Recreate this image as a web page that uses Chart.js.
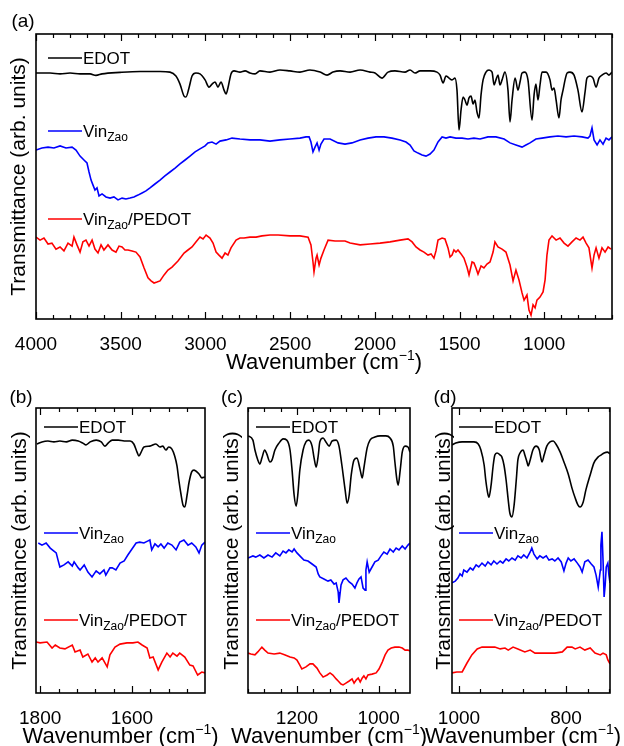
<!DOCTYPE html>
<html>
<head>
<meta charset="utf-8">
<script src="https://cdn.jsdelivr.net/npm/chart.js@4.4.1/dist/chart.umd.min.js"></script>
<style>
  body { margin: 0; background: #fff; }
  #wrap { position: relative; width: 624px; height: 746px; overflow: hidden; background: #fff; }
  canvas { position: absolute; }
</style>
</head>
<body>
<div id="wrap">
  <canvas id="pa" width="624" height="380" style="left:0;top:0;width:624px;height:380px"></canvas>
  <canvas id="pb" width="224" height="376" style="left:0;top:370px;width:224px;height:376px"></canvas>
  <canvas id="pc" width="220" height="376" style="left:212px;top:370px;width:220px;height:376px"></canvas>
  <canvas id="pd" width="208" height="376" style="left:416px;top:370px;width:208px;height:376px"></canvas>
</div>
<script>
// panel (a): full range
var aEdotWn = [4000,3917,3858,3799,3740,3681,3646,3610,3504,3386,3268,3209,3174,3150,3126,3115,3097,3079,3056,3032,3002,2979,2961,2943,2926,2908,2890,2878,2867,2849,2831,2796,2766,2737,2707,2678,2619,2560,2501,2442,2383,2323,2282,2247,2205,2146,2087,2028,1999,1958,1922,1881,1822,1792,1763,1733,1674,1633,1615,1597,1580,1562,1544,1527,1515,1503,1491,1479,1468,1456,1444,1432,1420,1409,1397,1385,1373,1361,1344,1326,1308,1296,1285,1273,1261,1249,1232,1214,1202,1190,1172,1155,1143,1131,1114,1096,1072,1060,1049,1037,1025,1013,989,966,954,942,930,913,901,889,877,865,848,824,801,777,759,748,730,712,694,677,659,635,618,600];
var aEdotT = [82.0,82.0,81.7,82.0,81.7,81.7,81.2,81.7,82.2,82.5,82.5,82.3,81.0,78.3,74.3,74.0,77.0,81.0,82.0,81.7,79.7,77.3,78.3,79.0,77.3,79.0,76.3,75.0,77.0,81.7,82.7,82.3,82.7,82.0,81.7,82.7,82.3,83.0,82.7,82.3,83.0,82.3,81.3,82.3,82.7,82.3,83.0,82.3,82.0,80.3,82.3,82.7,82.3,83.0,82.0,82.7,82.7,82.3,81.3,78.7,81.0,80.3,79.7,80.3,76.3,63.0,69.7,74.0,73.0,71.3,73.7,74.3,71.7,73.0,69.0,67.0,74.7,79.7,82.3,83.0,82.3,78.0,79.7,81.3,78.0,79.7,82.3,76.3,65.7,73.0,80.3,76.3,79.0,82.0,82.3,79.7,66.3,74.7,78.3,73.0,78.0,82.3,82.3,79.7,76.3,77.0,73.0,67.0,73.0,76.3,79.7,82.0,82.3,81.3,76.3,69.0,75.7,80.3,81.0,80.3,77.3,80.3,81.3,82.0,81.3,82.3];
var aVinWn = [4000,3965,3929,3894,3858,3823,3787,3764,3740,3717,3699,3687,3675,3664,3652,3640,3628,3610,3587,3563,3540,3516,3492,3469,3445,3422,3398,3374,3351,3327,3298,3268,3239,3209,3179,3150,3120,3091,3061,3032,3002,2985,2961,2937,2914,2878,2843,2796,2737,2678,2619,2560,2501,2442,2406,2388,2377,2365,2353,2341,2329,2318,2300,2264,2217,2176,2135,2087,2040,1993,1946,1899,1851,1816,1792,1769,1745,1721,1698,1674,1651,1627,1603,1580,1556,1521,1485,1450,1415,1379,1332,1285,1237,1202,1167,1131,1108,1084,1049,1013,966,919,871,824,777,742,730,718,706,688,671,653,635,618,600];
var aVinT = [56.3,57.0,57.3,57.0,57.7,57.0,57.3,56.3,54.3,53.0,52.0,49.0,46.3,44.7,43.0,43.7,41.0,41.7,40.7,40.3,40.7,39.7,40.3,40.0,40.3,40.7,41.3,42.0,42.7,43.7,45.0,46.3,47.7,49.0,50.3,51.7,53.0,54.3,55.7,56.7,57.7,58.7,59.0,58.3,59.3,59.7,60.3,60.0,59.7,59.7,59.3,59.7,60.0,60.3,60.7,60.7,59.0,55.7,57.3,58.7,56.3,58.3,60.0,60.0,58.7,58.3,58.7,59.7,60.3,60.7,60.7,60.3,59.7,59.0,58.0,56.0,55.3,54.7,54.3,55.0,56.3,59.0,60.7,60.3,60.7,60.3,60.3,60.0,60.3,60.0,60.7,60.7,60.0,58.7,58.0,57.3,58.0,58.7,60.0,60.3,60.7,61.0,60.7,61.0,60.7,60.3,61.0,63.7,59.7,58.0,59.7,58.3,60.3,59.7,60.7];
var aPedotWn = [4000,3976,3953,3929,3906,3882,3858,3835,3811,3787,3776,3758,3740,3723,3705,3687,3669,3652,3634,3616,3599,3575,3551,3528,3510,3492,3475,3457,3433,3410,3386,3362,3339,3321,3303,3286,3268,3244,3221,3197,3162,3126,3103,3079,3056,3032,3014,2996,2973,2955,2937,2920,2902,2884,2867,2849,2819,2796,2772,2737,2701,2666,2619,2571,2501,2442,2394,2377,2365,2359,2347,2341,2329,2318,2300,2276,2235,2176,2146,2087,2028,1969,1910,1851,1804,1780,1757,1733,1710,1686,1668,1651,1639,1627,1603,1586,1568,1556,1544,1533,1521,1509,1491,1474,1456,1444,1426,1415,1403,1391,1373,1356,1338,1320,1302,1291,1273,1249,1226,1202,1184,1167,1149,1131,1119,1102,1090,1078,1066,1054,1043,1025,1007,995,984,972,954,930,907,883,860,836,812,789,771,753,736,718,706,694,677,659,641,623,606];
var aPedotT = [27.3,26.3,27.0,25.0,25.3,23.3,24.0,22.7,25.3,24.3,27.3,24.7,22.3,25.7,26.3,24.3,26.3,23.3,22.0,24.7,23.0,24.7,23.0,22.3,24.3,24.0,23.0,23.0,22.7,22.3,20.7,17.0,13.7,12.7,12.0,12.3,12.7,14.7,16.3,17.3,19.3,22.0,23.0,24.0,25.7,27.3,26.7,28.0,27.0,25.3,22.3,21.3,20.3,22.0,21.3,23.7,26.3,27.0,27.0,27.3,27.3,27.7,28.0,28.0,27.7,27.7,27.3,24.7,19.0,15.7,20.3,21.3,18.0,20.3,23.0,26.3,26.0,26.0,25.3,24.7,25.0,25.3,25.7,26.3,26.7,25.7,24.0,23.0,22.3,21.3,21.7,20.3,22.7,26.3,27.0,26.7,23.7,20.7,21.3,23.0,22.3,23.0,21.7,20.3,17.3,14.7,19.0,18.7,17.0,15.0,17.7,17.0,18.3,19.0,22.3,25.7,24.0,23.3,22.3,18.0,12.7,16.3,13.0,8.7,6.3,8.0,3.0,1.3,4.7,3.7,6.3,7.3,9.0,13.0,21.3,26.3,27.7,26.3,27.0,25.3,24.3,25.7,27.0,26.3,27.3,25.3,23.7,17.0,21.3,23.7,20.3,23.7,22.3,24.0,23.3];
var aTicks = [4000, 3500, 3000, 2500, 2000, 1500, 1000];

// panel (b): 1800-1440
var bEdotWn = [1807,1796,1783,1770,1757,1743,1730,1717,1707,1700,1691,1678,1667,1659,1652,1643,1630,1617,1604,1596,1589,1585,1580,1574,1561,1548,1539,1533,1526,1520,1513,1507,1502,1498,1493,1489,1485,1480,1476,1470,1465,1461,1454,1448,1441];
var bEdotT = [83.0,83.7,84.0,83.7,84.0,83.7,84.3,84.0,83.3,82.7,83.7,84.3,83.7,82.3,83.3,84.3,84.3,84.0,84.0,83.0,80.3,79.0,80.3,82.0,82.3,83.0,82.0,82.3,81.0,82.0,81.3,79.0,75.7,71.0,66.0,62.7,62.0,66.0,70.0,73.7,74.3,74.0,73.0,71.7,72.0];
var bVinWn = [1804,1796,1787,1778,1770,1765,1761,1757,1748,1739,1730,1726,1717,1713,1704,1696,1687,1678,1670,1661,1657,1648,1643,1635,1626,1617,1609,1600,1591,1583,1574,1565,1561,1557,1550,1543,1537,1530,1522,1513,1504,1496,1487,1478,1470,1461,1454,1448,1441];
var bVinT = [50.0,49.3,50.0,48.3,47.3,46.7,44.3,42.0,42.7,43.7,42.3,43.7,41.7,41.0,42.7,40.3,38.7,40.7,39.7,41.0,39.3,41.7,41.7,41.0,43.3,44.0,46.0,48.0,50.0,50.3,50.0,50.7,51.0,47.7,49.7,48.7,49.7,48.3,50.0,49.3,47.7,50.3,51.0,49.3,50.0,48.7,46.7,49.3,50.3];
var bPedotWn = [1809,1800,1785,1774,1767,1757,1746,1730,1724,1713,1707,1696,1687,1680,1674,1665,1654,1648,1637,1626,1611,1598,1587,1578,1567,1561,1554,1543,1535,1524,1517,1511,1502,1496,1485,1474,1467,1457,1448,1441];
var bPedotT = [17.0,16.7,17.0,15.0,16.0,15.0,14.7,16.0,13.7,14.3,12.0,13.0,10.3,11.7,10.3,11.7,8.7,12.7,15.3,16.3,16.7,16.7,17.0,16.0,15.0,11.7,12.0,7.7,10.3,13.3,12.0,13.3,12.3,13.3,12.0,9.3,9.0,6.0,7.0,6.7];
var bTicks = [1800, 1600];

// panel (c): 1320-920
var cEdotWn = [1320,1308,1303,1296,1291,1286,1279,1274,1266,1261,1254,1244,1234,1225,1217,1212,1207,1202,1198,1193,1185,1178,1171,1163,1158,1153,1148,1144,1136,1129,1121,1114,1104,1097,1090,1082,1077,1072,1067,1060,1053,1045,1040,1036,1028,1021,1009,996,982,972,964,960,955,952,947,942,935,928,923];
var cEdotT = [85.7,84.3,81.0,77.7,76.3,78.3,81.0,79.7,77.0,77.7,81.0,83.3,84.7,84.3,81.0,74.3,66.0,62.3,66.0,74.3,81.0,83.7,84.3,82.3,78.3,75.3,79.0,83.7,85.0,83.7,82.3,84.0,84.3,82.3,76.0,67.7,63.3,66.0,72.7,77.7,78.3,74.3,71.7,75.0,81.7,84.3,85.3,85.7,85.7,85.0,82.3,77.0,71.0,69.3,74.3,80.3,82.3,82.0,80.3];
var cVinWn = [1320,1308,1301,1291,1281,1271,1261,1252,1242,1234,1227,1220,1212,1207,1200,1193,1183,1173,1163,1153,1148,1144,1134,1124,1117,1109,1104,1099,1097,1092,1087,1080,1072,1065,1058,1053,1048,1043,1038,1033,1031,1028,1023,1016,1009,1001,994,987,979,972,964,957,950,942,935,928,923];
var cVinT = [45.0,45.7,45.3,46.0,45.0,46.0,45.3,46.7,45.7,47.3,46.7,47.7,47.0,48.0,46.7,45.7,44.3,44.0,43.0,42.0,39.7,38.7,38.0,37.3,37.7,36.3,36.7,33.7,30.0,36.0,37.7,38.3,37.0,36.3,35.0,36.7,38.0,38.7,35.0,34.3,41.0,43.7,40.3,42.0,43.7,44.3,45.7,47.0,46.3,48.0,47.0,48.3,47.7,49.0,48.0,49.3,50.0];
var cPedotWn = [1320,1313,1303,1296,1286,1279,1271,1256,1242,1229,1217,1207,1200,1193,1188,1178,1168,1161,1151,1144,1136,1126,1119,1112,1104,1099,1092,1087,1080,1072,1065,1060,1055,1050,1045,1040,1036,1031,1026,1016,1006,999,991,984,977,969,960,950,942,935,928,923];
var cPedotT = [13.3,13.0,12.7,13.7,15.3,14.3,13.3,13.0,13.3,12.7,12.0,11.7,11.0,9.3,8.0,8.7,9.7,9.7,8.3,6.7,5.3,6.0,6.7,6.0,4.7,4.0,3.0,2.7,3.3,4.0,4.7,3.3,4.3,5.0,3.7,5.0,5.7,4.7,6.0,6.3,6.7,8.0,10.3,12.7,14.3,15.0,15.3,15.3,15.0,14.3,14.3,14.0];
var cTicks = [1200, 1000];

// panel (d): 1010-720
var dEdotWn = [1013,1006,994,983,972,964,959,953,950,946,944,940,936,933,929,923,920,916,912,908,905,901,897,893,890,886,880,877,873,871,867,862,856,850,847,845,841,836,830,824,819,811,804,796,789,783,778,774,768,763,755,748,740,735,729,723,718];
var dEdotT = [82.7,83.3,83.7,83.7,83.7,83.0,81.0,76.0,71.0,66.3,65.3,69.3,76.0,79.3,80.0,79.3,78.7,76.0,71.0,64.3,60.0,58.7,62.7,71.0,77.7,80.0,81.0,79.3,77.0,75.7,77.7,81.0,82.3,81.0,78.3,77.0,79.3,82.3,83.7,84.0,83.0,80.3,77.0,73.0,68.3,65.0,62.7,62.0,63.7,67.7,72.7,76.7,78.7,79.3,80.0,80.3,79.7];
var dVinWn = [1013,1007,1002,998,994,991,985,979,974,968,963,957,951,946,940,935,929,923,918,912,907,901,895,890,884,879,873,867,864,860,854,849,843,837,832,826,821,815,809,804,800,796,791,785,779,774,770,765,759,753,748,744,740,736,735,733,731,729,727,725,722,720,718];
var dVinT = [36.7,37.3,38.3,39.7,39.0,41.0,40.3,41.7,41.0,42.7,42.0,43.3,42.3,43.7,42.7,44.0,43.0,44.0,43.3,44.7,44.0,45.0,44.3,45.7,45.0,46.0,45.0,47.0,48.3,46.3,44.7,45.7,45.0,45.7,44.3,44.7,44.0,45.0,43.7,40.7,43.3,45.0,44.0,44.7,43.3,42.0,40.3,43.7,44.3,43.0,42.0,39.3,35.3,41.0,49.3,53.7,44.3,32.0,36.0,42.0,43.3,39.3,36.7];
var dPedotWn = [1013,1004,994,985,976,966,957,946,933,923,914,908,899,890,877,867,858,845,834,821,807,798,789,783,774,765,755,746,736,731,725,722,718];
var dPedotT = [6.7,7.0,7.0,10.0,12.7,14.7,15.3,15.3,15.3,14.7,15.0,14.3,15.3,14.7,13.7,14.3,13.3,13.3,13.3,13.3,13.7,15.3,15.3,14.7,15.3,14.3,15.0,13.3,12.7,13.3,12.7,11.0,9.7];
var dTicks = [1000, 800];

var seriesColors = ['#000000', '#0000ff', '#ff0000'];
var yTitle = 'Transmittance (arb. units)';
var FONT = "'Liberation Sans', Arial, Helvetica, sans-serif";

function legendParts(i) {
    if (i === 0) return [{t: 'EDOT'}];
    if (i === 1) return [{t: 'Vin'}, {t: 'Zao', sub: true}];
    return [{t: 'Vin'}, {t: 'Zao', sub: true}, {t: '/PEDOT'}];
}

function drawParts(ctx, parts, x, base) {
    parts.forEach(function (p) {
        ctx.font = (p.sub ? '12px ' : '17px ') + FONT;
        ctx.fillText(p.t, x, base + (p.sub ? 4 : 0));
        x += ctx.measureText(p.t).width;
    });
}

var framePlugin = {
    id: 'frame',
    afterDraw: function (chart, args, o) {
        var ctx = chart.ctx, a = chart.chartArea, xs = chart.scales.x;
        ctx.save();
        ctx.strokeStyle = '#000';
        ctx.lineWidth = 1.2;
        var v0 = Math.ceil(xs.min / o.minor) * o.minor;
        for (var v = v0; v <= xs.max; v += o.minor) {
            var px = Math.round(xs.getPixelForValue(v)) + 0.5;
            var len = (v % o.major === 0) ? 7 : 4;
            ctx.beginPath();
            ctx.moveTo(px, a.bottom); ctx.lineTo(px, a.bottom - len);
            ctx.moveTo(px, a.top); ctx.lineTo(px, a.top + len);
            ctx.stroke();
        }
        ctx.lineWidth = 1.6;
        ctx.strokeRect(a.left, a.top, a.right - a.left, a.bottom - a.top);

        ctx.fillStyle = '#000';
        // legend written inside the frame
        ctx.textAlign = 'left';
        ctx.textBaseline = 'alphabetic';
        for (var i = 0; i < 3; i++) {
            var ly = a.top + o.legendY[i];
            var lx = a.left + o.legendX;
            ctx.strokeStyle = seriesColors[i];
            ctx.lineWidth = 1.6;
            ctx.beginPath(); ctx.moveTo(lx, ly); ctx.lineTo(lx + 34, ly); ctx.stroke();
            drawParts(ctx, legendParts(i), lx + 35, ly + 6);
        }

        // panel letter
        ctx.textAlign = 'center';
        ctx.textBaseline = 'middle';
        ctx.font = '19px ' + FONT;
        ctx.fillText(o.letter, a.left + o.letterDx, a.top + o.letterDy);

        // y title
        ctx.save();
        ctx.translate(a.left + o.yTitleDx, (a.top + a.bottom) / 2);
        ctx.rotate(-Math.PI / 2);
        ctx.font = '21px ' + FONT;
        ctx.fillText(yTitle, 0, 0);
        ctx.restore();

        // x title with superscript
        ctx.textAlign = 'left';
        ctx.textBaseline = 'alphabetic';
        var t1 = 'Wavenumber (cm', t2 = '\u22121', t3 = ')';
        ctx.font = '22px ' + FONT;
        var w1 = ctx.measureText(t1).width, w3 = ctx.measureText(t3).width;
        ctx.font = '14px ' + FONT;
        var w2 = ctx.measureText(t2).width;
        var tx = (a.left + a.right) / 2 - (w1 + w2 + w3) / 2 + o.xTitleDx;
        var ty = a.bottom + 50;
        ctx.font = '22px ' + FONT;
        ctx.fillText(t1, tx, ty);
        ctx.font = '14px ' + FONT;
        ctx.fillText(t2, tx + w1, ty - 9);
        ctx.font = '22px ' + FONT;
        ctx.fillText(t3, tx + w1 + w2, ty);
        ctx.restore();
    }
};

function line(xs, ys, i) {
    return {
        data: xs.map(function (x, k) { return {x: x, y: ys[k]}; }),
        borderColor: seriesColors[i],
        borderWidth: 1.6,
        pointRadius: 0,
        fill: false,
        tension: 0,
        cubicInterpolationMode: i === 0 ? 'monotone' : 'default'
    };
}

function makePanel(id, p) {
    new Chart(document.getElementById(id), {
        type: 'line',
        data: {
            datasets: [line(p.e[0], p.e[1], 0), line(p.v[0], p.v[1], 1), line(p.r[0], p.r[1], 2)]
        },
        options: {
            responsive: false,
            animation: false,
            devicePixelRatio: 1,
            layout: {padding: {left: 36, top: p.top, right: p.right, bottom: 0}},
            plugins: {
                legend: {display: false},
                tooltip: {enabled: false},
                frame: {
                    major: p.major, minor: p.minor, legendX: p.legendX, legendY: p.legendY,
                    letter: p.letter, letterDx: p.letterDx, letterDy: p.letterDy,
                    yTitleDx: p.yTitleDx, xTitleDx: p.xTitleDx || 0
                }
            },
            scales: {
                x: {
                    type: 'linear',
                    reverse: true,
                    min: p.xmin,
                    max: p.xmax,
                    grid: {display: false},
                    border: {display: false},
                    afterBuildTicks: function (s) {
                        s.ticks = p.ticks.map(function (v) { return {value: v}; });
                    },
                    ticks: {
                        autoSkip: false,
                        maxRotation: 0,
                        padding: 6,
                        color: '#000',
                        font: {family: FONT, size: 19},
                        callback: function (v) { return String(v); }
                    },
                    afterFit: function (s) { s.height = p.xh; }
                },
                y: {display: false, min: 0, max: 95}
            }
        },
        plugins: [framePlugin]
    });
}

makePanel('pa', {
    e: [aEdotWn, aEdotT], v: [aVinWn, aVinT], r: [aPedotWn, aPedotT], ticks: aTicks,
    xmin: 600, xmax: 4000, major: 500, minor: 100,
    top: 34, right: 12, xh: 61,
    legendX: 12, legendY: [24, 97, 185],
    letter: '(a)', letterDx: -13, letterDy: -12, yTitleDx: -17
});
makePanel('pb', {
    e: [bEdotWn, bEdotT], v: [bVinWn, bVinT], r: [bPedotWn, bPedotT], ticks: bTicks,
    xmin: 1441, xmax: 1809, major: 200, minor: 40,
    top: 38, right: 19, xh: 53,
    legendX: 8, legendY: [19, 125, 212],
    letter: '(b)', letterDx: -15, letterDy: -10, yTitleDx: -16
});
makePanel('pc', {
    e: [cEdotWn, cEdotT], v: [cVinWn, cVinT], r: [cPedotWn, cPedotT], ticks: cTicks,
    xmin: 923, xmax: 1320, major: 200, minor: 40,
    top: 38, right: 22, xh: 53,
    legendX: 8, legendY: [19, 125, 212],
    letter: '(c)', letterDx: -16, letterDy: -10, yTitleDx: -16
});
makePanel('pd', {
    e: [dEdotWn, dEdotT], v: [dVinWn, dVinT], r: [dPedotWn, dPedotT], ticks: dTicks,
    xmin: 718, xmax: 1013, major: 200, minor: 40,
    top: 38, right: 14, xh: 53,
    legendX: 7, legendY: [19, 125, 212],
    letter: '(d)', letterDx: -7, letterDy: -10, yTitleDx: -8, xTitleDx: -8
});
</script>
</body>
</html>
